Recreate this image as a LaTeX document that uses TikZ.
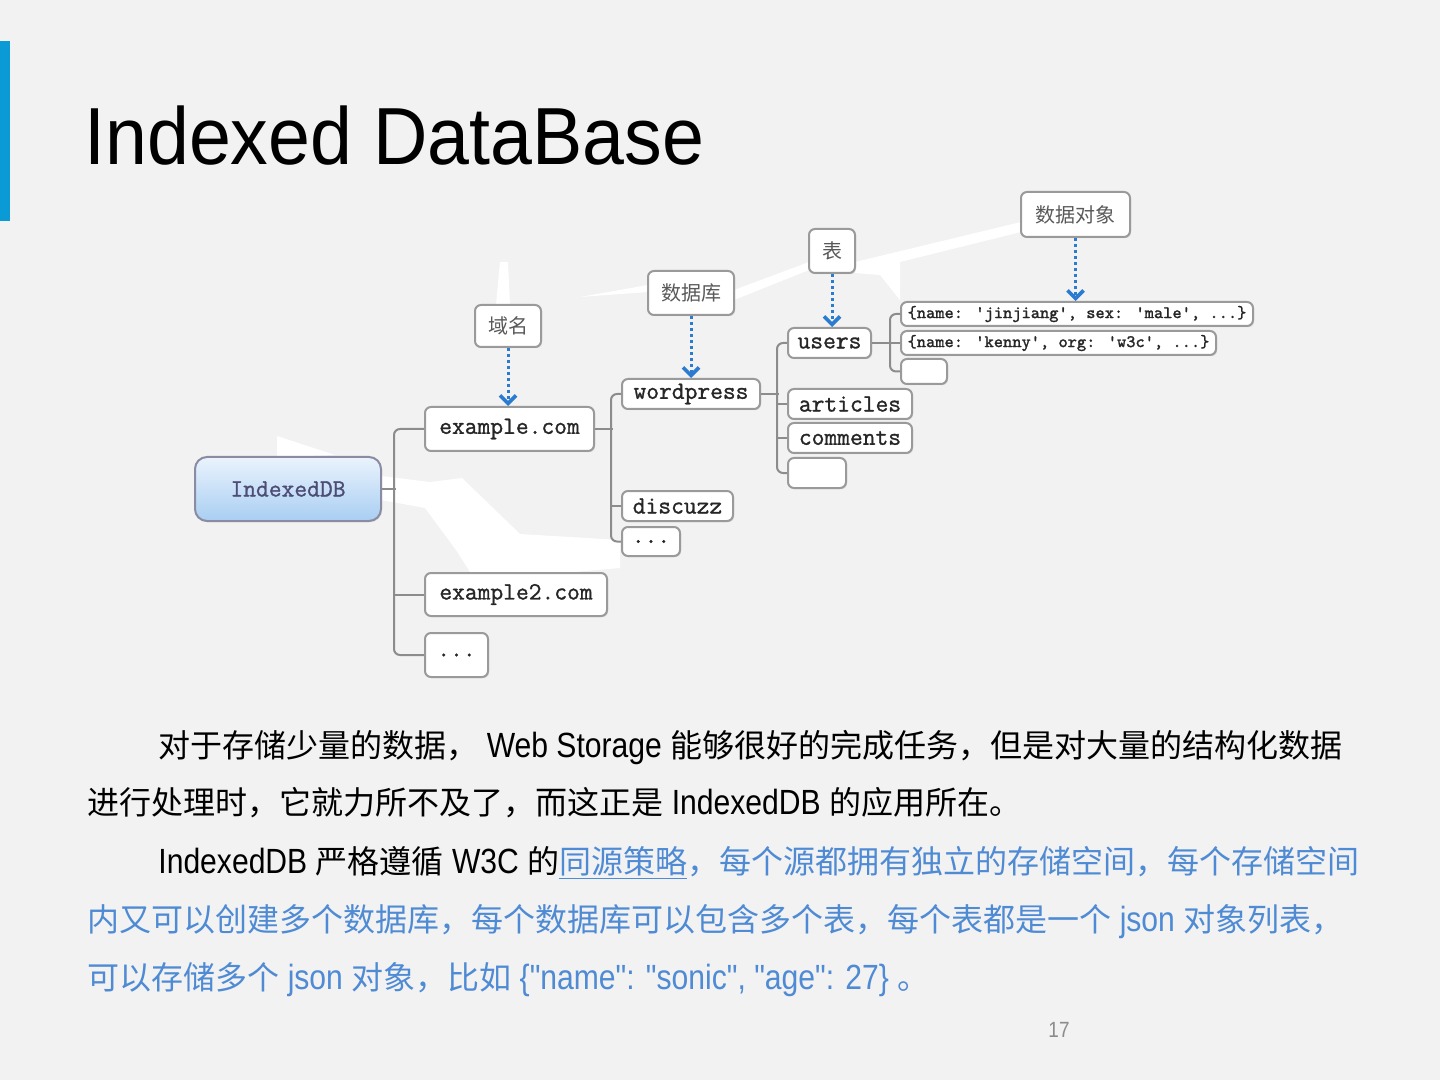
\documentclass[tikz,border=0pt]{standalone}
\usepackage{fontspec}
\setmainfont{Liberation Sans}
\newfontfamily\cjk{Noto Sans CJK SC}
\newfontfamily\lat[FakeStretch=0.86]{Liberation Sans}
\newfontfamily\ttl[FakeStretch=0.93]{Liberation Sans}
\newfontfamily\mono[FakeBold=1.2]{Latin Modern Mono}
\usetikzlibrary{arrows.meta,shadows}
\definecolor{bg}{HTML}{F2F2F2}
\definecolor{accent}{HTML}{0A9BD6}
\definecolor{boxline}{HTML}{9A9A9A}
\definecolor{treeline}{HTML}{8C8C8C}
\definecolor{arrowblue}{HTML}{2B7BD0}
\definecolor{bodyblue}{HTML}{4F8BD4}
\definecolor{idbtop}{HTML}{EAF3FD}
\definecolor{idbbot}{HTML}{A9CEF2}
\newcommand{\la}[1]{{\lat\fontsize{17.5}{20}\selectfont #1}}
\tikzset{
  mbox/.style={draw=boxline, line width=1pt, fill=white, rounded corners=3pt, inner sep=0pt,
    font=\mono\fontsize{12.4}{14}\selectfont, text=black!85,
    drop shadow={opacity=0.2, shadow xshift=0.6pt, shadow yshift=-0.6pt}},
  lbox/.style={mbox, font=\cjk\fontsize{10}{12}\selectfont, text=black!65},
  jbox/.style={mbox, font=\mono\fontsize{8.8}{10}\selectfont},
  sz/.style n args={2}{minimum width=0.5*#1pt, minimum height=0.5*#2pt},
  tree/.style={draw=treeline, line width=1pt, rounded corners=3pt},
  dotarrow/.style={draw=arrowblue, line width=1.5pt, dash pattern=on 1.4pt off 1.6pt,
    -{Straight Barb[length=4pt, width=8pt, line width=1.8pt]}},
  bodyline/.style={anchor=base west, inner sep=0pt, font=\cjk\fontsize{16}{19}\selectfont}
}
\begin{document}
\begin{tikzpicture}[x=0.5pt, y=-0.5pt]
\useasboundingbox (0,0) rectangle (1440,1080);
\fill[bg] (0,0) rectangle (1440,1080);
\fill[accent] (0,41) rectangle (10,221);
% white artefacts of the pasted picture
\fill[white] (277,436) -- (335,455) -- (277,457) -- cycle;
\fill[white] (381,476) -- (430,482) -- (462,478) -- (520,534) -- (620,540) -- (620,568) -- (552,574) -- (470,572) -- (456,550) -- (425,508) -- (381,500) -- cycle;
\fill[white] (500,262) -- (508,262) -- (510,305) -- (496,305) -- cycle;
\fill[white] (580,297) -- (648,285) -- (648,292) -- cycle;
\fill[white] (734,290) -- (809,262) -- (809,270) -- (734,300) -- cycle;
\fill[white] (855,262) -- (1021,222) -- (1021,232) -- (900,262) -- (900,300) -- (880,275) -- (855,273) -- cycle;
% title
\node[anchor=base west, inner sep=0pt, font=\ttl\fontsize{40.5}{44}\selectfont] (title) at (84,165) {Indexed DataBase};
% diagram nodes
\node[mbox, sz={186}{64}, rounded corners=6pt, top color=idbtop, bottom color=idbbot, draw=boxline!90!blue, text=black!60!blue!40!gray] (idb) at (288,489) {IndexedDB};
\node[lbox, sz={66}{42}] (l1) at (508,326) {域名};
\node[mbox, sz={169}{44}] (ex1) at (509.5,429) {example.com};
\node[mbox, sz={182}{43}] (ex2) at (516,594.5) {example2.com};
\node[mbox, sz={63}{44}] (exd) at (456.5,655) {...};
\node[lbox, sz={86}{44}] (l2) at (691,293) {数据库};
\node[mbox, sz={138}{30}] (wp) at (691,394) {wordpress};
\node[mbox, sz={111}{30}] (dz) at (677.5,506) {discuzz};
\node[mbox, sz={58}{29}] (dzd) at (651,541.5) {...};
\node[lbox, sz={46}{44}] (l3) at (832,251) {表};
\node[mbox, sz={83}{30}] (users) at (829.5,343) {users};
\node[mbox, sz={124}{30}] (art) at (850,404) {articles};
\node[mbox, sz={124}{30}] (com) at (850,438) {comments};
\node[mbox, sz={58}{30}] (te) at (817,473) {};
\node[lbox, sz={109}{45}] (l4) at (1075.5,214.5) {数据对象};
\node[jbox, sz={352}{24}] (o1) at (1077,314) {\{name: 'jinjiang', sex: 'male', ...\}};
\node[jbox, sz={315}{24}] (o2) at (1058.5,343) {\{name: 'kenny', org: 'w3c', ...\}};
\node[jbox, sz={46}{25}] (oe) at (924,371.5) {};
% tree connectors
\draw[tree] (idb.east) -- ++(14,0);
\draw[tree] (ex1.west) -- ++(-30,0) |- (exd.west);
\draw[tree] (ex2.west) -- ++(-30,0);
\draw[tree] (ex1.east) -- ++(18,0);
\draw[tree] (wp.west) -- ++(-10,0) |- (dzd.west);
\draw[tree] (dz.west) -- ++(-10,0);
\draw[tree] (wp.east) -- ++(18,0);
\draw[tree] (users.west) -- ++(-10,0) |- (te.west);
\draw[tree] (art.west) -- ++(-10,0);
\draw[tree] (com.west) -- ++(-10,0);
\draw[tree] (users.east) -- ++(20,0);
\draw[tree] (o1.west) -- ++(-10,0) |- (oe.west);
\draw[tree] (o2.west) -- ++(-10,0);
% dotted arrows
\draw[dotarrow] (l1.south) -- (l1.south |- ex1.north);
\draw[dotarrow] (l2.south) -- (l2.south |- wp.north);
\draw[dotarrow] (l3.south) -- (l3.south |- users.north);
\draw[dotarrow] (l4.south) -- (l4.south |- o1.north);
% body text
\node[bodyline] (t1) at (158,757) {对于存储少量的数据，\la{ Web Storage }能够很好的完成任务，但是对大量的结构化数据};
\node[bodyline] (t2) at (87,814) {进行处理时，它就力所不及了，而这正是\la{ IndexedDB }的应用所在。};
\node[bodyline] (t3) at (158,873) {\la{IndexedDB }严格遵循\la{ W3C }的\textcolor{bodyblue}{\underline{同源策略}，每个源都拥有独立的存储空间，每个存储空间}};
\node[bodyline, text=bodyblue] (t4) at (87,931) {内又可以创建多个数据库，每个数据库可以包含多个表，每个表都是一个\la{ json }对象列表，};
\node[bodyline, text=bodyblue] (t5) at (87,989) {可以存储多个\la{ json }对象，比如\la{ \{"name": "sonic", "age": 27\} }。};
\node[anchor=center, inner sep=0pt, font=\lat\fontsize{11}{13}\selectfont, text=black!45] (pg) at (1059,1030) {17};
\end{tikzpicture}
\end{document}
